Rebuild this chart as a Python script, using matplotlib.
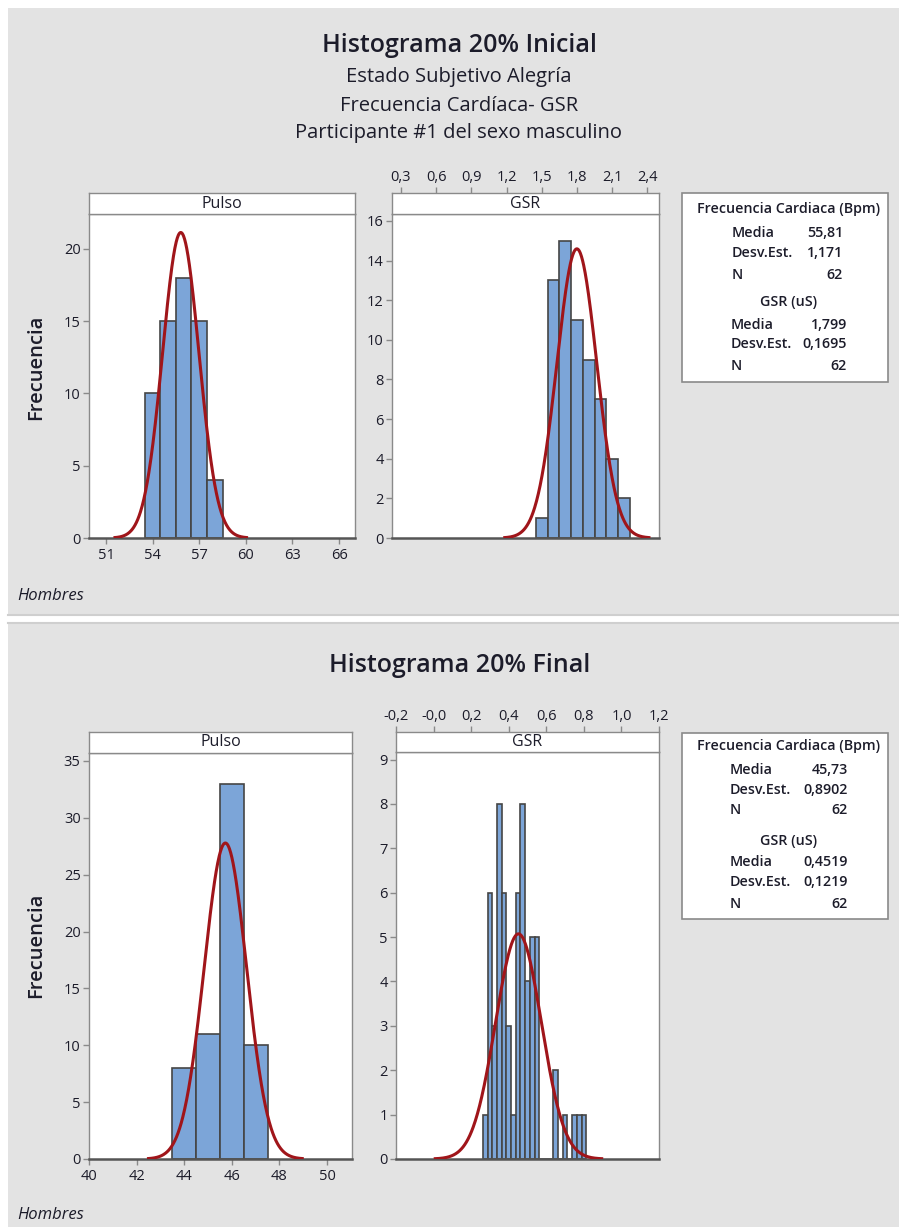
import numpy as np
import matplotlib
matplotlib.use("Agg")
import matplotlib.pyplot as plt
from matplotlib.patches import Rectangle

plt.rcParams['font.family'] = ['Open Sans', 'DejaVu Sans']

# ---- data -------------------------------------------------------------
# Initial 20 %: heart rate (Pulso) histogram
pulso_ini_centers = [54, 55, 56, 57, 58]
pulso_ini_counts = [10, 15, 18, 15, 4]
pulso_ini_width = 1.0
pulso_ini_mean, pulso_ini_sd, pulso_ini_n = 55.81, 1.171, 62

# Initial 20 %: GSR histogram
gsr_ini_centers = [1.5, 1.6, 1.7, 1.8, 1.9, 2.0, 2.1, 2.2]
gsr_ini_counts = [1, 13, 15, 11, 9, 7, 4, 2]
gsr_ini_width = 0.1
gsr_ini_mean, gsr_ini_sd, gsr_ini_n = 1.799, 0.1695, 62

# Final 20 %: heart rate (Pulso) histogram
pulso_fin_centers = [44, 45, 46, 47]
pulso_fin_counts = [8, 11, 33, 10]
pulso_fin_width = 1.0
pulso_fin_mean, pulso_fin_sd, pulso_fin_n = 45.73, 0.8902, 62

# Final 20 %: GSR histogram
gsr_fin_centers = [0.275, 0.300, 0.325, 0.350, 0.375, 0.400, 0.425, 0.450,
                   0.475, 0.500, 0.525, 0.550, 0.575, 0.600, 0.625, 0.650,
                   0.675, 0.700, 0.725, 0.750, 0.775, 0.800]
gsr_fin_counts = [1, 6, 3, 8, 6, 3, 1, 6, 8, 4, 5, 5, 0, 0, 0, 2, 0, 1, 0,
                  1, 1, 1]
gsr_fin_width = 0.025
gsr_fin_mean, gsr_fin_sd, gsr_fin_n = 0.4519, 0.1219, 62

# tick values / labels
pulso_ini_xticks = [51, 54, 57, 60, 63, 66]
pulso_ini_yticks = [0, 5, 10, 15, 20]
gsr_ini_xticks = [0.3, 0.6, 0.9, 1.2, 1.5, 1.8, 2.1, 2.4]
gsr_ini_xlabels = ["0,3", "0,6", "0,9", "1,2", "1,5", "1,8", "2,1", "2,4"]
gsr_ini_yticks = [0, 2, 4, 6, 8, 10, 12, 14, 16]
pulso_fin_xticks = [40, 42, 44, 46, 48, 50]
pulso_fin_yticks = [0, 5, 10, 15, 20, 25, 30, 35]
gsr_fin_xticks = [-0.2, 0.0, 0.2, 0.4, 0.6, 0.8, 1.0, 1.2]
gsr_fin_xlabels = ["-0,2", "-0,0", "0,2", "0,4", "0,6", "0,8", "1,0", "1,2"]
gsr_fin_yticks = [0, 1, 2, 3, 4, 5, 6, 7, 8, 9]

# ---- styling ------------------------------------------------------------
W, H = 899, 1227
BG = '#e3e3e3'
BAR = '#7ca5d8'
EDGE = '#454545'
CURVE = '#a0151a'
FRAME = '#8a8a8a'
TXT = '#1c1c2a'
TICK_FS = 10.5

fig = plt.figure(figsize=(W / 100, H / 100), dpi=100, facecolor='white')


def fx(x):
    return x / W


def fy(y):
    return 1 - y / H


def px_axes(x0, y0, x1, y1):
    return fig.add_axes([fx(x0), fy(y1), (x1 - x0) / W, (y1 - y0) / H])


def ftext(x, y, s, **kw):
    kw.setdefault('va', 'center')
    kw.setdefault('color', TXT)
    return fig.text(fx(x), fy(y), s, **kw)


def rect(x0, y0, x1, y1, **kw):
    r = Rectangle((fx(x0), fy(y1)), (x1 - x0) / W, (y1 - y0) / H,
                  transform=fig.transFigure, **kw)
    fig.add_artist(r)
    return r


# grey panels behind each chart
rect(8, 8, 899, 615, facecolor=BG, edgecolor='none', zorder=-10)
rect(8, 623, 899, 1227, facecolor=BG, edgecolor='none', zorder=-10)
fig.add_artist(plt.Line2D([fx(8), 1], [fy(615), fy(615)], transform=fig.transFigure,
                          color='#cfcfcf', lw=1.5, zorder=-9))
fig.add_artist(plt.Line2D([fx(8), 1], [fy(623), fy(623)], transform=fig.transFigure,
                          color='#cfcfcf', lw=1.5, zorder=-9))


def panel(data_box, header_y0, centers, counts, width, mean, sd, n,
          xlim, ylim, xticks, xlabels, yticks, name, top_axis):
    x0, y0, x1, y1 = data_box
    ax = px_axes(x0, y0, x1, y1)
    ax.set_facecolor('white')
    ax.bar(centers, counts, width=width, color=BAR, edgecolor=EDGE,
           linewidth=1.2, align='center', zorder=2)
    xs = np.linspace(mean - 3.7 * sd, mean + 3.7 * sd, 400)
    ys = n * width * np.exp(-0.5 * ((xs - mean) / sd) ** 2) / (sd * np.sqrt(2 * np.pi))
    ax.plot(xs, ys, color=CURVE, lw=2.2, zorder=3, solid_capstyle='butt')
    ax.set_xlim(*xlim)
    ax.set_ylim(*ylim)
    for s in ('left', 'right', 'top'):
        ax.spines[s].set_color(FRAME)
        ax.spines[s].set_linewidth(1.0)
    ax.spines['bottom'].set_color('#555555')
    ax.spines['bottom'].set_linewidth(1.8)
    ax.set_yticks(yticks)
    ax.set_yticklabels([str(v) for v in yticks])
    ax.tick_params(axis='y', direction='out', length=4, width=1, color=FRAME,
                   labelsize=TICK_FS, labelcolor=TXT, pad=2)

    hd = px_axes(x0, header_y0, x1, y0)
    hd.set_facecolor('white')
    hd.set_xlim(*xlim)
    hd.set_ylim(0, 1)
    hd.set_yticks([])
    for s in hd.spines.values():
        s.set_color(FRAME)
        s.set_linewidth(1.0)
    hd.text(0.5, 0.5, name, transform=hd.transAxes, ha='center', va='center',
            fontsize=11.5, color=TXT)

    if top_axis:
        ax.set_xticks([])
        hd.xaxis.tick_top()
        hd.set_xticks(xticks)
        hd.set_xticklabels(xlabels)
        hd.tick_params(axis='x', direction='out', length=4, width=1, color=FRAME,
                       labelsize=TICK_FS, labelcolor=TXT, pad=2)
    else:
        hd.set_xticks([])
        ax.set_xticks(xticks)
        ax.set_xticklabels(xlabels)
        ax.tick_params(axis='x', direction='out', length=4, width=1, color=FRAME,
                       labelsize=TICK_FS, labelcolor=TXT, pad=3)
    return ax


def stats_box(x0, y0, x1, y1, rows):
    rect(x0, y0, x1, y1, facecolor='white', edgecolor=FRAME, lw=1.2, zorder=1)
    for kind, y, a, b, xa, xb in rows:
        if kind == 'head':
            ftext(xa, y, a, ha='center', fontsize=10.3, fontweight='semibold')
        else:
            ftext(xa, y, a, ha='left', fontsize=10.3, fontweight='semibold')
            ftext(xb, y, b, ha='right', fontsize=10.3, fontweight='semibold')


def fmt(v):
    return str(v).replace('.', ',')


# ---- top chart ----------------------------------------------------------
ftext(459, 45, "Histograma 20% Inicial", ha='center', fontsize=18, fontweight='semibold')
ftext(459, 77, "Estado Subjetivo Alegría", ha='center', fontsize=14.5)
ftext(459, 106, "Frecuencia Cardíaca- GSR", ha='center', fontsize=14.5)
ftext(459, 133, "Participante #1 del sexo masculino", ha='center', fontsize=14.5)

panel((89, 214, 355, 538), 193, pulso_ini_centers, pulso_ini_counts, pulso_ini_width,
      pulso_ini_mean, pulso_ini_sd, pulso_ini_n, (49.9, 67.03), (0, 22.4),
      pulso_ini_xticks, [str(v) for v in pulso_ini_xticks], pulso_ini_yticks,
      "Pulso", False)
panel((392, 214, 659, 538), 193, gsr_ini_centers, gsr_ini_counts, gsr_ini_width,
      gsr_ini_mean, gsr_ini_sd, gsr_ini_n, (0.2235, 2.499), (0, 16.35),
      gsr_ini_xticks, gsr_ini_xlabels, gsr_ini_yticks, "GSR", True)

ftext(36.5, 367, "Frecuencia", ha='center', rotation=90, fontsize=14.5, fontweight='semibold')
ftext(17, 596, "Hombres", ha='left', fontsize=12, style='italic')

stats_box(682, 193, 888, 382, [
    ('head', 209, "Frecuencia Cardiaca (Bpm)", None, 789, None),
    ('row', 233, "Media", fmt(pulso_ini_mean), 732, 843),
    ('row', 253, "Desv.Est.", fmt(pulso_ini_sd), 732, 843),
    ('row', 275, "N", str(pulso_ini_n), 732, 843),
    ('head', 302, "GSR (uS)", None, 789, None),
    ('row', 325, "Media", fmt(gsr_ini_mean), 731, 847),
    ('row', 344, "Desv.Est.", fmt(gsr_ini_sd), 731, 847),
    ('row', 366, "N", str(gsr_ini_n), 731, 847),
])

# ---- bottom chart -------------------------------------------------------
ftext(460, 665, "Histograma 20% Final", ha='center', fontsize=18, fontweight='semibold')

panel((89, 753, 352, 1159), 732, pulso_fin_centers, pulso_fin_counts, pulso_fin_width,
      pulso_fin_mean, pulso_fin_sd, pulso_fin_n, (40.0, 51.05), (0, 35.7),
      pulso_fin_xticks, [str(v) for v in pulso_fin_xticks], pulso_fin_yticks,
      "Pulso", False)
panel((396, 752, 659, 1159), 732, gsr_fin_centers, gsr_fin_counts, gsr_fin_width,
      gsr_fin_mean, gsr_fin_sd, gsr_fin_n, (-0.2, 1.2), (0, 9.17),
      gsr_fin_xticks, gsr_fin_xlabels, gsr_fin_yticks, "GSR", True)

ftext(36.5, 945, "Frecuencia", ha='center', rotation=90, fontsize=14.5, fontweight='semibold')
ftext(17, 1215, "Hombres", ha='left', fontsize=12, style='italic')

stats_box(682, 733, 888, 919, [
    ('head', 746, "Frecuencia Cardiaca (Bpm)", None, 789, None),
    ('row', 770, "Media", fmt(pulso_fin_mean), 730, 848),
    ('row', 790, "Desv.Est.", fmt(pulso_fin_sd), 730, 848),
    ('row', 810, "N", str(pulso_fin_n), 730, 848),
    ('head', 841, "GSR (uS)", None, 789, None),
    ('row', 862, "Media", fmt(gsr_fin_mean), 730, 848),
    ('row', 882, "Desv.Est.", fmt(gsr_fin_sd), 730, 848),
    ('row', 904, "N", str(gsr_fin_n), 730, 848),
])

fig.savefig("out.png", dpi=100, facecolor='white')
